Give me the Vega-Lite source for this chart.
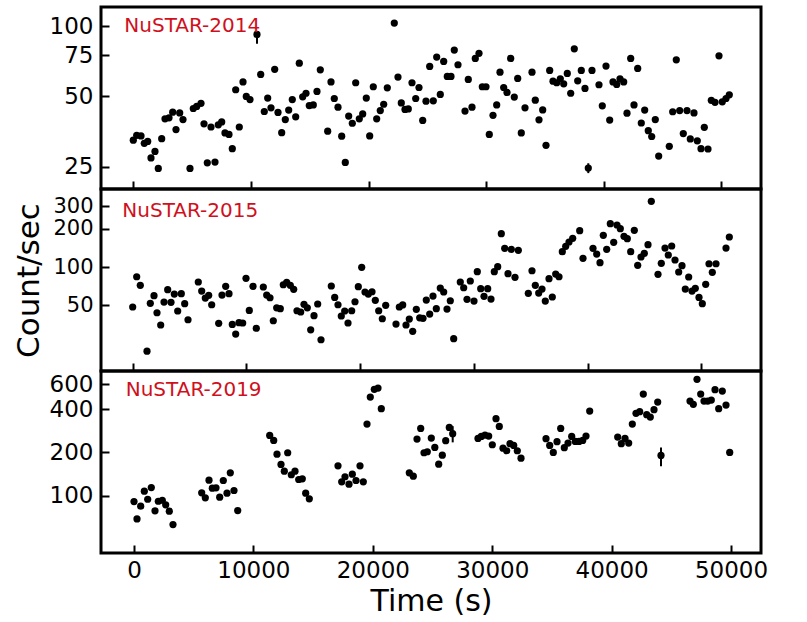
{
  "$schema": "https://vega.github.io/schema/vega-lite/v6.json",
  "padding": {"left": 12, "top": 5, "right": 0, "bottom": 0},
  "bounds": "flush",
  "spacing": 0,
  "config": {
    "font": "DejaVu Sans",
    "view": {"stroke": "black", "strokeWidth": 3},
    "axis": {"grid": false, "domain": false, "tickColor": "black", "tickWidth": 2, "tickSize": -8, "labelColor": "black", "labelFontSize": 23, "labelPadding": 16, "labelFlush": false, "labelOverlap": false, "titleColor": "black", "titleFontWeight": "normal"}
  },
  "datasets": {
    "nustar2014": [
      {"t":0,"c":32.5},{"t":289,"c":34.1},{"t":655,"c":33.9},{"t":935,"c":31.5},{"t":1224,"c":32.1},{"t":1505,"c":27.3},{"t":1845,"c":29.1},{"t":2126,"c":24.6},{"t":2415,"c":33.0},{"t":2696,"c":40.1},{"t":3036,"c":40.5},{"t":3350,"c":42.8},{"t":3631,"c":36.1},{"t":3945,"c":42.5},{"t":4226,"c":39.8},{"t":4821,"c":24.6},{"t":5102,"c":44.4},{"t":5391,"c":45.3},{"t":5757,"c":46.7},{"t":6012,"c":38.2},{"t":6292,"c":26.0},{"t":6607,"c":37.0},{"t":6947,"c":26.2},{"t":7228,"c":37.8},{"t":7517,"c":38.9},{"t":7797,"c":34.9},{"t":8137,"c":34.4},{"t":8418,"c":29.9},{"t":8707,"c":53.4},{"t":9013,"c":37.0},{"t":9328,"c":57.7},{"t":9608,"c":50.0},{"t":9923,"c":48.5},{"t":10518,"c":92.1,"lo":84,"hi":95},{"t":10833,"c":62.1},{"t":11139,"c":43.1},{"t":11428,"c":49.2},{"t":11709,"c":44.7},{"t":12023,"c":65.3},{"t":12304,"c":42.7},{"t":12619,"c":35.0},{"t":12925,"c":39.8},{"t":13214,"c":43.7},{"t":13520,"c":48.5},{"t":13809,"c":40.9},{"t":14115,"c":69.4},{"t":14404,"c":49.8},{"t":14685,"c":51.6},{"t":14965,"c":45.7},{"t":15305,"c":46.0},{"t":15620,"c":52.5},{"t":15901,"c":65.0},{"t":16530,"c":35.5},{"t":16811,"c":57.7},{"t":17091,"c":49.0},{"t":17406,"c":45.0},{"t":17720,"c":33.8},{"t":18026,"c":26.1},{"t":18315,"c":41.2},{"t":18622,"c":38.4},{"t":18911,"c":57.2},{"t":19217,"c":40.1},{"t":19506,"c":42.1},{"t":19812,"c":49.2},{"t":20101,"c":33.9},{"t":20407,"c":55.0},{"t":20696,"c":40.1},{"t":21002,"c":43.5},{"t":21291,"c":46.3},{"t":21598,"c":54.4},{"t":22193,"c":103.0},{"t":22507,"c":60.5},{"t":22788,"c":46.9},{"t":23103,"c":44.0},{"t":23383,"c":44.2},{"t":23698,"c":57.2},{"t":24013,"c":49.0},{"t":24293,"c":54.6},{"t":24608,"c":39.5},{"t":24888,"c":47.7},{"t":25203,"c":67.2},{"t":25509,"c":47.9},{"t":25798,"c":73.7},{"t":26104,"c":51.0},{"t":26393,"c":70.6},{"t":26699,"c":60.9},{"t":27014,"c":60.9},{"t":27295,"c":78.9},{"t":27609,"c":68.3},{"t":28205,"c":43.3},{"t":28485,"c":59.1},{"t":28800,"c":45.0},{"t":29080,"c":72.7},{"t":29395,"c":76.4},{"t":29676,"c":55.0},{"t":29990,"c":55.0},{"t":30271,"c":34.4},{"t":30586,"c":41.5},{"t":30900,"c":46.0},{"t":31181,"c":63.5},{"t":31495,"c":54.6},{"t":31776,"c":52.0},{"t":32091,"c":72.7},{"t":32397,"c":49.7},{"t":32686,"c":59.7},{"t":32992,"c":34.9},{"t":33307,"c":44.7},{"t":33902,"c":63.5},{"t":34182,"c":48.2},{"t":34497,"c":39.7},{"t":34811,"c":43.8},{"t":35092,"c":30.9},{"t":35406,"c":64.6},{"t":35687,"c":58.1},{"t":36002,"c":57.2},{"t":36308,"c":59.5},{"t":36597,"c":56.6},{"t":36903,"c":62.7},{"t":37192,"c":51.6},{"t":37498,"c":79.9},{"t":37787,"c":58.3},{"t":38093,"c":64.6},{"t":38408,"c":54.1},{"t":38689,"c":24.7,"lo":23.5,"hi":25.9},{"t":39003,"c":64.6},{"t":39598,"c":56.1},{"t":39879,"c":45.6},{"t":40194,"c":67.4},{"t":40508,"c":39.6},{"t":40789,"c":57.7},{"t":41104,"c":56.3},{"t":41384,"c":59.5},{"t":41699,"c":57.7},{"t":41979,"c":42.4},{"t":42294,"c":72.7},{"t":42575,"c":46.0},{"t":42889,"c":65.9},{"t":43195,"c":38.5},{"t":43484,"c":43.7},{"t":43790,"c":35.7},{"t":44080,"c":33.7},{"t":44386,"c":39.8},{"t":44675,"c":27.8},{"t":45576,"c":30.6},{"t":45865,"c":43.0},{"t":46171,"c":71.7},{"t":46460,"c":43.5},{"t":46767,"c":34.7},{"t":47081,"c":43.5},{"t":47362,"c":32.9},{"t":47676,"c":42.5},{"t":47957,"c":32.3},{"t":48272,"c":29.9},{"t":48553,"c":36.9},{"t":48867,"c":29.8},{"t":49148,"c":48.1},{"t":49462,"c":47.2},{"t":49802,"c":74.6},{"t":50083,"c":47.4},{"t":50398,"c":49.0},{"t":50678,"c":50.8}
    ],
    "nustar2015": [
      {"t":0,"c":48.6},{"t":352,"c":83.9},{"t":668,"c":71.9},{"t":1258,"c":21.9},{"t":1548,"c":51.9},{"t":1873,"c":59.6},{"t":2137,"c":43.8},{"t":2463,"c":35.1},{"t":2753,"c":53.1},{"t":3078,"c":66.4},{"t":3368,"c":52.9},{"t":3659,"c":61.4},{"t":3958,"c":45.2},{"t":4274,"c":61.8},{"t":4573,"c":51.6},{"t":4864,"c":38.6},{"t":5769,"c":76.3},{"t":6069,"c":64.8},{"t":6385,"c":57.1},{"t":6684,"c":60.0},{"t":6948,"c":50.6},{"t":7564,"c":36.2},{"t":7854,"c":60.3},{"t":8179,"c":70.6},{"t":8470,"c":61.8},{"t":8760,"c":35.5},{"t":9059,"c":29.8},{"t":9349,"c":36.6},{"t":9675,"c":36.4},{"t":9965,"c":81.5},{"t":10255,"c":45.7},{"t":10580,"c":70.6},{"t":10871,"c":33.1},{"t":11487,"c":69.7},{"t":11785,"c":60.3},{"t":12076,"c":57.4},{"t":12366,"c":37.9},{"t":12665,"c":47.9},{"t":12981,"c":47.1},{"t":13245,"c":72.6},{"t":13544,"c":75.9},{"t":13861,"c":71.9},{"t":14160,"c":66.9},{"t":14450,"c":45.4},{"t":14776,"c":44.4},{"t":15066,"c":51.0},{"t":15356,"c":47.9},{"t":15655,"c":32.2},{"t":15945,"c":41.5},{"t":16271,"c":51.3},{"t":16561,"c":26.9},{"t":17467,"c":71.0},{"t":17766,"c":57.8},{"t":18056,"c":50.6},{"t":18346,"c":41.3},{"t":18645,"c":45.2},{"t":18936,"c":36.4},{"t":19261,"c":45.4},{"t":19551,"c":53.4},{"t":19842,"c":70.1},{"t":20141,"c":99.4},{"t":20431,"c":63.7},{"t":20721,"c":61.4},{"t":21047,"c":64.0},{"t":21337,"c":54.8},{"t":21636,"c":45.4},{"t":21953,"c":39.3},{"t":22252,"c":50.1},{"t":23157,"c":35.7},{"t":23448,"c":48.6},{"t":23747,"c":50.4},{"t":24037,"c":35.1},{"t":24327,"c":39.1},{"t":24626,"c":31.3},{"t":24943,"c":46.6},{"t":25242,"c":40.0},{"t":25532,"c":39.6},{"t":25822,"c":55.1},{"t":26121,"c":42.8},{"t":26411,"c":59.2},{"t":26702,"c":47.1},{"t":27053,"c":68.4},{"t":27352,"c":63.7},{"t":27643,"c":46.8},{"t":27933,"c":54.4},{"t":28232,"c":27.4},{"t":28812,"c":76.3},{"t":29111,"c":68.8},{"t":29402,"c":55.8},{"t":29692,"c":77.7},{"t":30017,"c":54.1},{"t":30307,"c":91.9},{"t":30607,"c":67.6},{"t":30897,"c":58.9},{"t":31222,"c":67.6},{"t":31512,"c":56.1},{"t":31803,"c":91.9},{"t":32102,"c":100.6},{"t":32419,"c":182.4},{"t":32718,"c":140.2},{"t":33008,"c":88.6},{"t":33298,"c":137.6},{"t":33624,"c":83.0},{"t":33914,"c":135.2},{"t":34793,"c":62.2},{"t":35118,"c":93.5},{"t":35409,"c":71.9},{"t":35708,"c":62.5},{"t":35998,"c":67.2},{"t":36288,"c":54.1},{"t":36614,"c":81.0},{"t":36904,"c":58.2},{"t":37203,"c":88.1},{"t":37493,"c":83.9},{"t":37784,"c":131.8},{"t":38083,"c":145.4},{"t":38373,"c":157.1},{"t":38698,"c":168.0},{"t":39314,"c":192.7},{"t":39604,"c":117.0},{"t":40484,"c":140.2},{"t":40809,"c":126.4},{"t":41099,"c":108.1},{"t":41390,"c":177.3},{"t":41689,"c":137.6},{"t":42005,"c":218.6},{"t":42304,"c":156.2},{"t":42594,"c":213.5},{"t":42885,"c":199.7},{"t":43210,"c":174.1},{"t":43500,"c":166.7},{"t":43799,"c":131.8},{"t":44116,"c":194.1},{"t":44415,"c":103.1},{"t":44705,"c":119.8},{"t":44995,"c":128.0},{"t":45321,"c":149.6},{"t":45611,"c":327.5},{"t":46200,"c":87.7},{"t":46490,"c":106.9},{"t":46816,"c":140.9},{"t":47106,"c":124.2},{"t":47405,"c":146.1},{"t":47695,"c":113.5},{"t":48021,"c":91.4},{"t":48311,"c":102.4},{"t":48601,"c":67.2},{"t":48900,"c":83.5},{"t":49191,"c":64.8},{"t":49481,"c":68.1},{"t":49806,"c":57.8},{"t":50097,"c":51.6},{"t":50396,"c":73.1},{"t":50686,"c":106.1},{"t":50976,"c":90.9},{"t":51302,"c":106.1},{"t":52181,"c":140.9},{"t":52472,"c":171.9}
    ],
    "nustar2019": [
      {"t":0,"c":90.8},{"t":251,"c":68.7},{"t":561,"c":84.2},{"t":863,"c":107.2},{"t":1147,"c":94.2},{"t":1449,"c":113.7},{"t":1759,"c":78.2},{"t":2035,"c":91.2},{"t":2370,"c":92.7},{"t":2655,"c":86.1},{"t":2956,"c":77.7},{"t":3266,"c":62.7},{"t":5670,"c":104.4},{"t":5971,"c":96.4},{"t":6281,"c":127.9},{"t":6558,"c":112.5},{"t":6868,"c":113.2},{"t":7177,"c":97.3},{"t":7479,"c":127.3},{"t":7789,"c":103.8},{"t":8065,"c":144.1},{"t":8375,"c":108.4},{"t":8685,"c":78.5},{"t":11365,"c":262.8},{"t":11700,"c":242.4},{"t":11976,"c":194.5},{"t":12311,"c":164.8},{"t":12588,"c":147.9},{"t":12872,"c":198.9},{"t":13174,"c":139.6},{"t":13484,"c":147.9},{"t":13794,"c":129.4},{"t":14095,"c":130.9},{"t":14380,"c":103.8},{"t":14681,"c":94.8},{"t":17085,"c":161.3},{"t":17395,"c":124.7},{"t":17671,"c":135.2},{"t":18006,"c":120.0},{"t":18283,"c":140.9},{"t":18593,"c":127.3},{"t":18928,"c":161.3},{"t":19204,"c":124.7},{"t":19514,"c":315.2},{"t":19790,"c":486.9},{"t":20125,"c":551.0},{"t":20435,"c":562.7},{"t":20711,"c":403.9},{"t":23056,"c":144.1},{"t":23391,"c":136.4},{"t":23701,"c":247.6},{"t":24011,"c":294.1},{"t":24288,"c":198.9},{"t":24564,"c":202.1},{"t":24899,"c":251.6},{"t":25193,"c":216.6},{"t":25519,"c":165.6},{"t":25820,"c":191.3},{"t":26105,"c":241.3},{"t":26406,"c":298.9},{"t":26691,"c":270.1,"lo":235,"hi":305},{"t":28810,"c":250.4},{"t":29086,"c":258.6},{"t":29396,"c":264.2},{"t":29706,"c":260.0},{"t":30007,"c":226.2},{"t":30317,"c":343.9},{"t":30594,"c":303.8},{"t":30904,"c":214.2},{"t":31213,"c":205.4},{"t":31490,"c":229.9},{"t":31800,"c":223.7},{"t":32101,"c":205.4},{"t":32411,"c":182.3},{"t":34505,"c":249.2},{"t":34815,"c":223.7},{"t":35116,"c":199.8},{"t":35426,"c":237.5},{"t":35736,"c":294.1},{"t":36038,"c":215.6},{"t":36348,"c":232.2},{"t":36657,"c":258.6},{"t":36959,"c":238.6},{"t":37269,"c":238.6},{"t":37578,"c":242.4},{"t":37855,"c":260.0},{"t":38165,"c":388.6},{"t":40510,"c":255.7},{"t":40811,"c":229.9},{"t":41121,"c":250.4},{"t":41431,"c":232.2},{"t":41733,"c":315.2},{"t":42043,"c":374.5},{"t":42352,"c":384.9},{"t":42654,"c":510.9},{"t":42938,"c":366.7},{"t":43240,"c":352.8},{"t":43550,"c":397.5},{"t":43860,"c":449.1},{"t":44136,"c":190.4,"lo":160,"hi":216},{"t":46565,"c":456.4},{"t":46841,"c":432.8},{"t":47151,"c":647.4},{"t":47461,"c":510.9},{"t":47738,"c":456.4},{"t":48047,"c":456.4},{"t":48349,"c":463.8},{"t":48659,"c":548.4},{"t":48969,"c":403.9},{"t":49270,"c":536.2},{"t":49580,"c":428.0},{"t":49890,"c":199.8}
    ]
  },
  "resolve": {"scale": {"x": "independent", "y": "independent"}},
  "vconcat": [
    {
      "width": 660, "height": 182,
      "layer": [
        {"data": {"name": "nustar2014"}, "transform": [{"filter": "isValid(datum.lo)"}], "mark": {"type": "rule", "color": "black", "strokeWidth": 2},
         "encoding": {"x": {"field": "t", "type": "quantitative"}, "y": {"field": "lo", "type": "quantitative", "axis": {"title": null}}, "y2": {"field": "hi"}}},
        {"data": {"name": "nustar2014"}, "mark": {"type": "circle", "size": 52, "color": "black", "opacity": 1},
         "encoding": {
           "x": {"field": "t", "type": "quantitative", "scale": {"type": "linear", "domain": [-2746, 53374], "nice": false, "zero": false}, "axis": {"values": [0, 10000, 20000, 30000, 40000, 50000], "labels": false, "title": null}},
           "y": {"field": "c", "type": "quantitative", "scale": {"type": "log", "domain": [20.1, 120.6], "nice": false}, "axis": {"values": [25, 50, 75, 100], "format": "d", "title": null}}}},
        {"data": {"values": [{"t": -765, "c": 94.3, "label": "NuSTAR-2014"}]},
         "mark": {"type": "text", "fill": "#d0101c", "fontSize": 20, "align": "left", "baseline": "alphabetic"},
         "encoding": {"x": {"field": "t", "type": "quantitative"}, "y": {"field": "c", "type": "quantitative"}, "text": {"field": "label"}}}
      ]
    },
    {
      "width": 660, "height": 182,
      "layer": [
        {"data": {"name": "nustar2015"}, "mark": {"type": "circle", "size": 52, "color": "black", "opacity": 1},
         "encoding": {
           "x": {"field": "t", "type": "quantitative", "scale": {"type": "linear", "domain": [-2788, 55259], "nice": false, "zero": false}, "axis": {"values": [0, 10000, 20000, 30000, 40000, 50000], "labels": false, "title": null}},
           "y": {"field": "c", "type": "quantitative", "scale": {"type": "log", "domain": [15.3, 409], "nice": false}, "axis": {"values": [50, 100, 200, 300], "format": "d", "labelFontSize": 21, "title": "Count/sec", "titleFontSize": 31, "titlePadding": 7}}}},
        {"data": {"values": [{"t": -915, "c": 246.6, "label": "NuSTAR-2015"}]},
         "mark": {"type": "text", "fill": "#d0101c", "fontSize": 20, "align": "left", "baseline": "alphabetic"},
         "encoding": {"x": {"field": "t", "type": "quantitative"}, "y": {"field": "c", "type": "quantitative"}, "text": {"field": "label"}}}
      ]
    },
    {
      "width": 660, "height": 182,
      "layer": [
        {"data": {"name": "nustar2019"}, "transform": [{"filter": "isValid(datum.lo)"}], "mark": {"type": "rule", "color": "black", "strokeWidth": 2},
         "encoding": {"x": {"field": "t", "type": "quantitative", "axis": {"title": "Time (s)"}}, "y": {"field": "lo", "type": "quantitative", "axis": {"title": null}}, "y2": {"field": "hi"}}},
        {"data": {"name": "nustar2019"}, "mark": {"type": "circle", "size": 52, "color": "black", "opacity": 1},
         "encoding": {
           "x": {"field": "t", "type": "quantitative", "scale": {"type": "linear", "domain": [-2764, 52511], "nice": false, "zero": false}, "axis": {"values": [0, 10000, 20000, 30000, 40000, 50000], "format": "d", "labelPadding": 14, "title": "Time (s)", "titleFontSize": 30, "titlePadding": 4}},
           "y": {"field": "c", "type": "quantitative", "scale": {"type": "log", "domain": [39.7, 740], "nice": false}, "axis": {"values": [100, 200, 400, 600], "format": "d", "title": null}}}},
        {"data": {"values": [{"t": -695, "c": 496.5, "label": "NuSTAR-2019"}]},
         "mark": {"type": "text", "fill": "#d0101c", "fontSize": 20, "align": "left", "baseline": "alphabetic"},
         "encoding": {"x": {"field": "t", "type": "quantitative"}, "y": {"field": "c", "type": "quantitative"}, "text": {"field": "label"}}}
      ]
    }
  ]
}
